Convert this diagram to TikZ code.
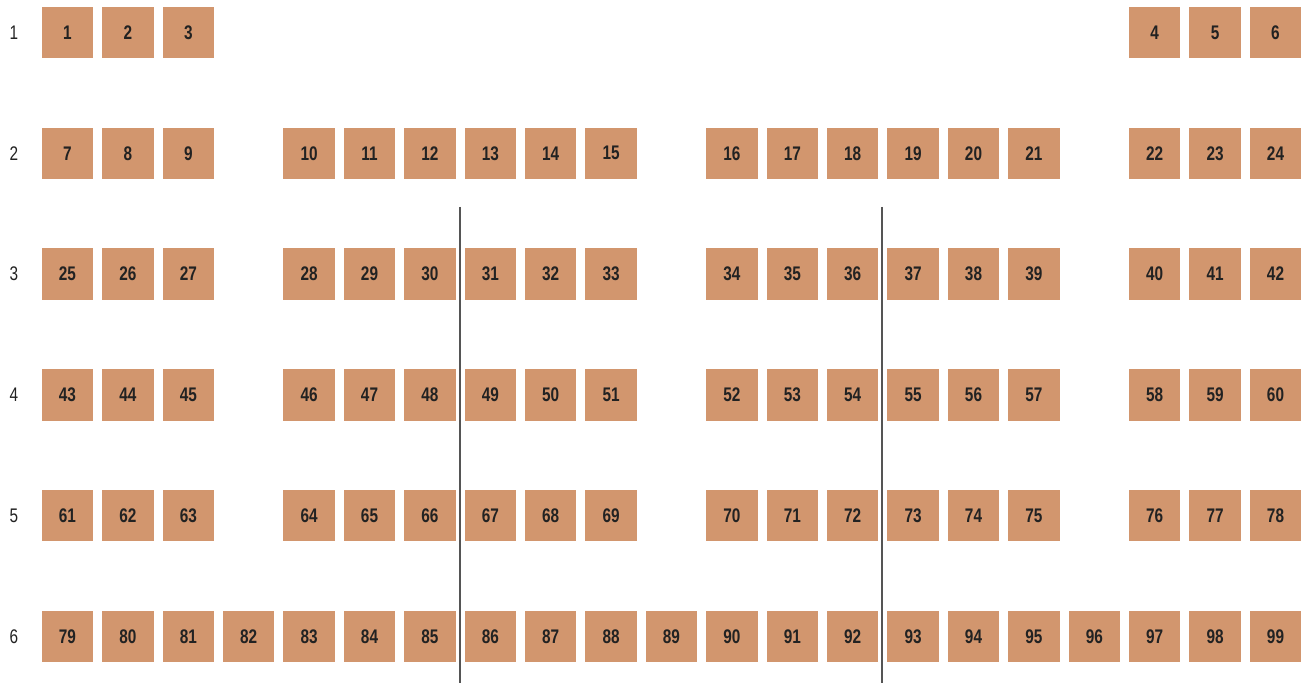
\documentclass[tikz,border=0pt]{standalone}
\usepackage{fontspec}
\setmainfont{Liberation Sans}[FakeStretch=0.78]
\definecolor{seatfill}{HTML}{D2966E}
\definecolor{seatnum}{HTML}{222222}
\definecolor{aisle}{HTML}{555555}
\tikzset{
  seat/.style={fill=seatfill, minimum width=0.515cm, minimum height=0.515cm, inner sep=0pt,
    text=seatnum, font=\bfseries\fontsize{5.6}{6}\selectfont},
  rowlab/.style={text=seatnum, inner sep=0pt, font=\fontsize{5.6}{6}\selectfont},
  divider/.style={draw=aisle, line width=0.6pt}
}
\begin{document}
\begin{tikzpicture}[x=0.01cm, y=-0.01cm]
  \useasboundingbox (0,0) rectangle (1305,683);
  % row labels
  \foreach \r in {1,...,6}
    \draw (14,{32.5+120.8*(\r-1)}) node[rowlab] (r\r) {\r};
  % row 1
  \foreach \c [count=\k] in {0,1,2,18,19,20}
    \draw ({67.5+60.4*\c},32.5) node[seat] (b\k) {\k};
  % rows 2 to 5
  \foreach \r in {2,...,5}{
    \foreach \c [count=\k] in {0,1,2,4,5,6,7,8,9,11,12,13,14,15,16,18,19,20}{
      \pgfmathtruncatemacro{\n}{18*(\r-2)+6+\k}
      \draw ({67.5+60.4*\c},{32.5+120.8*(\r-1)}) node[seat] (b\n) {\n};
    }
  }
  % row 6
  \foreach \c in {0,...,20}{
    \pgfmathtruncatemacro{\n}{79+\c}
    \draw ({67.5+60.4*\c},636.5) node[seat] (b\n) {\n};
  }
  % dividers
  \coordinate (d1top) at (460,207);
  \coordinate (d1bot) at (460,683);
  \coordinate (d2top) at (882,207);
  \coordinate (d2bot) at (882,683);
  \draw[divider] (d1top) -- (d1bot);
  \draw[divider] (d2top) -- (d2bot);
\end{tikzpicture}
\end{document}
